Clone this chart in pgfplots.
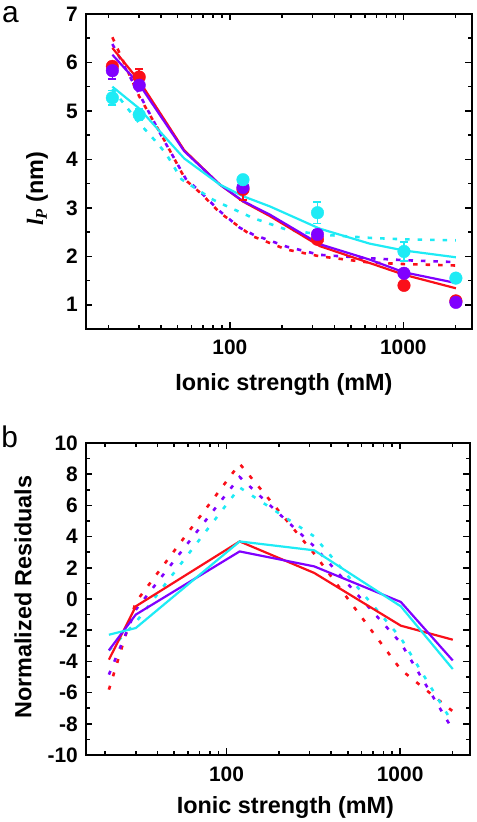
\documentclass[border=0pt]{standalone}
\usepackage{pgfplots}
\pgfplotsset{compat=1.18}
\usepackage{fontspec}
\setmainfont{Liberation Sans}
\newfontfamily\timesfont{Liberation Serif}
\definecolor{cred}{RGB}{250,15,25}
\definecolor{cpur}{RGB}{128,0,255}
\definecolor{ccyan}{RGB}{30,235,245}
\pgfplotsset{
 myaxis/.style={
  scale only axis,
  xtick={100,1000}, xticklabels={100,1000},
  minor xtick={20,30,40,50,60,70,80,90,200,300,400,500,600,700,800,900,2000},
  axis line style={line width=2bp},
  every tick/.style={line width=1.6bp, black},
  major tick length=6.5bp, minor tick length=4bp,
  tick align=inside,
  ticklabel style={font=\fontsize{21}{21}\selectfont\bfseries},
  /pgf/number format/assume math mode=true,
  xticklabel style={anchor=base, yshift=-26bp, inner sep=0pt},
  yticklabel style={anchor=east, xshift=-8bp, inner sep=0pt},
  label style={font=\fontsize{23.5}{23.5}\selectfont\bfseries},
 },
}
\tikzset{
 fitline/.style={line width=2.2bp},
 dotline/.style={line width=2.6bp, dash pattern=on 4.5bp off 8bp},
 dotlineb/.style={line width=2.6bp, dash pattern=on 4bp off 10bp},
}
\begin{document}
\begin{tikzpicture}
\useasboundingbox (0,0) rectangle (477bp,822bp);
\node[anchor=base west, inner sep=0pt, font=\fontsize{30}{30}\selectfont] at (2bp,799bp) {a};
\node[anchor=base west, inner sep=0pt, font=\fontsize{30}{30}\selectfont] at (1.3bp,374bp) {b};
% ---------- panel a ----------
\begin{semilogxaxis}[myaxis, at={(86bp,493bp)}, anchor=south west,
  width=385.7bp, height=315bp,
  xmin=14.8, xmax=2480, ymin=0.5, ymax=7,
  ytick={1,2,3,4,5,6,7}, minor y tick num=1,
  xlabel={Ionic strength (mM)},
  xlabel style={at={(axis description cs:0.513,-0.194)}, anchor=base},
  ylabel={{\timesfont\bfseries\itshape l}\textsubscript{\timesfont\bfseries\itshape P} (nm)},
  ylabel style={at={(axis description cs:-0.127,0.446)}, anchor=center},
]
\addplot[dotline, cred] coordinates {(21,6.52)(30,5.30)(40.8,4.47)(55.7,3.57)(68,3.30)(87.5,2.90)(114,2.60)(136,2.41)(212,2.14)(330,2.0)(642,1.87)(1009,1.84)(2010,1.81)};
\addplot[dotline, cpur] coordinates {(21,6.38)(30,5.35)(40.8,4.45)(55.7,3.60)(68,3.32)(87.5,2.93)(114,2.59)(136,2.45)(212,2.2)(330,2.03)(642,1.96)(1009,1.92)(2010,1.88)};
\addplot[dotline, ccyan] coordinates {(21,5.45)(30,4.75)(37.4,4.37)(42.8,4.12)(52.6,3.59)(79.8,3.17)(87.5,3.10)(136,2.79)(212,2.55)(330,2.45)(642,2.38)(1009,2.35)(2010,2.33)};
\addplot[fitline, cred] coordinates {(21,6.30)(30,5.62)(54.5,4.19)(87.5,3.48)(119,3.13)(170,2.83)(330,2.21)(642,1.86)(1009,1.62)(2010,1.34)};
\addplot[fitline, cpur] coordinates {(21,6.16)(30,5.55)(54.5,4.17)(87.5,3.48)(119,3.14)(170,2.86)(330,2.25)(642,1.93)(1009,1.67)(2010,1.45)};
\addplot[fitline, ccyan] coordinates {(21,5.50)(30,5.05)(54.5,4.02)(87.5,3.48)(119,3.24)(170,3.03)(330,2.57)(642,2.26)(1009,2.12)(2010,1.98)};
\addplot[only marks, mark=*, mark size=6.3bp, color=cred,
   error bars/.cd, y dir=both, y explicit,
   error bar style={line width=1.5bp, cred},
   error mark options={rotate=90, mark size=4bp, line width=1.5bp, cred}]
 coordinates {(21,5.92) +- (0,0.1) (30,5.70) +- (0,0.17) (119,3.38) +- (0,0.22) (320,2.35) +- (0,0.08) (1009,1.40) +- (0,0.05) (2010,1.08) +- (0,0.05)};
\addplot[only marks, mark=*, mark size=6.3bp, color=cpur,
   error bars/.cd, y dir=both, y explicit,
   error bar style={line width=1.5bp, cpur},
   error mark options={rotate=90, mark size=4bp, line width=1.5bp, cpur}]
 coordinates {(21,5.83) +- (0,0.17) (30,5.53) +- (0,0.05) (119,3.42) +- (0,0.08) (320,2.45) +- (0,0.1) (1009,1.65) +- (0,0.05) (2010,1.05) +- (0,0.03)};
\addplot[only marks, mark=*, mark size=6.3bp, color=ccyan,
   error bars/.cd, y dir=both, y explicit,
   error bar style={line width=1.5bp, ccyan},
   error mark options={rotate=90, mark size=4bp, line width=1.5bp, ccyan}]
 coordinates {(21,5.27) +- (0,0.15) (30,4.92) +- (0,0.12) (119,3.58) +- (0,0.08) (320,2.90) +- (0,0.22) (1009,2.10) +- (0,0.2) (2010,1.55) +- (0,0.05)};
\end{semilogxaxis}
% ---------- panel b ----------
\begin{semilogxaxis}[myaxis, at={(86bp,67bp)}, anchor=south west,
  width=383.5bp, height=312bp,
  xmin=15.5, xmax=2510, ymin=-10, ymax=10,
  ytick={-10,-8,-6,-4,-2,0,2,4,6,8,10}, minor y tick num=1,
  xlabel={Ionic strength (mM)},
  xlabel style={at={(axis description cs:0.52,-0.186)}, anchor=base},
  ylabel={Normalized Residuals},
  ylabel style={at={(axis description cs:-0.164,0.506)}, anchor=center},
]
\addplot[dotlineb, cred] coordinates {(21,-5.81)(30,-0.2)(119,8.67)(320,2.9)(1009,-4.53)(2010,-7.2)};
\addplot[dotlineb, cpur] coordinates {(21,-4.85)(30,-0.69)(119,7.82)(320,3.37)(1009,-2.82)(2010,-8.38)};
\addplot[dotlineb, ccyan] coordinates {(21,-3.3)(30,-1.5)(119,7.15)(320,4.01)(1009,-2.5)(2010,-7.95)};
\addplot[fitline, cred] coordinates {(21,-3.89)(30,-0.47)(119,3.69)(320,1.67)(1009,-1.71)(2010,-2.61)};
\addplot[fitline, cpur] coordinates {(21,-3.29)(30,-1.0)(119,3.05)(320,2.09)(1009,-0.19)(2010,-3.94)};
\addplot[fitline, ccyan] coordinates {(21,-2.29)(30,-1.86)(119,3.69)(320,3.12)(1009,-0.47)(2010,-4.49)};
\end{semilogxaxis}
\end{tikzpicture}
\end{document}
